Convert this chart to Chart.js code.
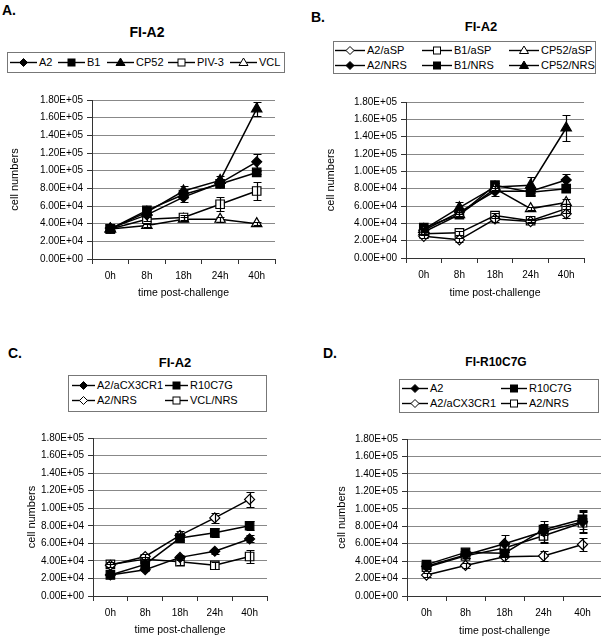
<!DOCTYPE html>
<html>
<head>
<meta charset="utf-8">
<script src="https://cdn.jsdelivr.net/npm/chart.js@4.4.1/dist/chart.umd.min.js"></script>
<style>
  body { margin: 0; background: #fff; width: 601px; height: 637px; overflow: hidden; position: relative;
         font-family: "Liberation Sans", Arial, sans-serif; color: #000; }
  canvas { position: absolute; }
  .lett { position: absolute; font-weight: bold; font-size: 14px; line-height: 14px; }
  .ttl { position: absolute; font-weight: bold; font-size: 13px; line-height: 13px; transform: translateX(-50%); white-space: nowrap; }
  .leg { position: absolute; border: 1px solid #777; box-sizing: border-box; }
  .it { position: absolute; display: flex; align-items: center; font-size: 11px; line-height: 13px; white-space: nowrap; }
  .it svg { margin-right: 2px; display: block; }
</style>
</head>
<body>

<script>
// categorias del eje x
const hours = ['0h', '8h', '18h', '24h', '40h'];

// A. FI-A2
const aA2   = [35000, 50000, 70000, 86000, 110000];
const aA2e  = [0, 0, 5000, 3000, 9000];
const aB1   = [34000, 55000, 73000, 85000, 98000];
const aB1e  = [0, 2000, 3000, 2000, 2000];
const aCP52 = [34000, 53000, 77000, 89000, 170000];
const aCP52e = [0, 3000, 6000, 5000, 8000];
const aPIV3 = [34000, 45000, 47000, 62000, 77000];
const aPIV3e = [0, 2000, 3000, 8000, 10000];
const aVCL  = [34000, 38000, 45000, 45000, 40000];
const aVCLe = [0, 2000, 2000, 3000, 2000];

// B. FI-A2 (aSP / NRS)
const bA2aSP   = [25000, 21000, 45000, 42000, 51000];
const bA2aSPe  = [2000, 2000, 3000, 2000, 5000];
const bB1aSP   = [28000, 29000, 49000, 43000, 57000];
const bB1aSPe  = [2000, 2000, 3000, 2000, 5000];
const bCP52aSP = [30000, 50000, 80000, 57000, 64000];
const bCP52aSPe = [2000, 3000, 3000, 2000, 4000];
const bA2NRS   = [32000, 53000, 77000, 77000, 90000];
const bA2NRSe  = [2000, 5000, 6000, 5000, 7000];
const bB1NRS   = [35000, 50000, 84000, 76000, 80000];
const bB1NRSe  = [2000, 3000, 3000, 3000, 3000];
const bCP52NRS = [33000, 58000, 82000, 84000, 150000];
const bCP52NRSe = [2000, 7000, 4000, 9000, 15000];

// C. FI-A2 (aCX3CR1)
const cA2aCX  = [24000, 30000, 44000, 51000, 65000];
const cA2aCXe = [2000, 2000, 3000, 3000, 4000];
const cR10    = [24000, 36000, 66000, 72000, 80000];
const cR10e   = [2000, 3000, 5000, 5000, 5000];
const cA2NRS  = [35000, 45000, 69000, 89000, 110000];
const cA2NRSe = [2000, 3000, 5000, 6000, 9000];
const cVCL    = [36000, 42000, 39000, 35000, 45000];
const cVCLe   = [3000, 3000, 4000, 4000, 7000];

// D. FI-R10C7G
const dA2     = [34000, 47000, 60000, 74000, 85000];
const dA2e    = [2000, 3000, 10000, 12000, 12000];
const dR10    = [36000, 50000, 49000, 76000, 88000];
const dR10e   = [2000, 2000, 3000, 6000, 11000];
const dA2aCX  = [24000, 35000, 45000, 46000, 59000];
const dA2aCXe = [2000, 3000, 5000, 6000, 7000];
const dA2NRS  = [33000, 46000, 55000, 69000, 84000];
const dA2NRSe = [2000, 3000, 5000, 8000, 12000];

const yMax = 180000;
const yStep = 20000;

Chart.defaults.font.family = '"Liberation Sans", Arial, sans-serif';
Chart.defaults.color = '#000';

// formato 1.80E+05
function sci(v) {
  if (v === 0) return '0.00E+00';
  const e = Math.floor(Math.log10(v) + 1e-9);
  const m = v / Math.pow(10, e);
  return m.toFixed(2) + 'E+' + String(e).padStart(2, '0');
}

// barras de error verticales
const errorBars = {
  id: 'errorBars',
  afterDatasetsDraw(chart) {
    const ctx = chart.ctx;
    const y = chart.scales.y;
    chart.data.datasets.forEach((ds, i) => {
      const meta = chart.getDatasetMeta(i);
      ctx.save();
      ctx.strokeStyle = '#000';
      ctx.lineWidth = 1.2;
      meta.data.forEach((pt, j) => {
        const e = ds.errs[j];
        if (!e) return;
        const top = Math.round(y.getPixelForValue(ds.data[j] + e)) + 0.5;
        const bot = Math.round(y.getPixelForValue(ds.data[j] - e)) + 0.5;
        const x = Math.round(pt.x) + 0.5;
        ctx.beginPath();
        ctx.moveTo(x, top); ctx.lineTo(x, bot);
        ctx.moveTo(x - 4, top); ctx.lineTo(x + 4, top);
        ctx.moveTo(x - 4, bot); ctx.lineTo(x + 4, bot);
        ctx.stroke();
      });
      ctx.restore();
    });
  }
};

function pointCfg(kind) {
  const open = kind.endsWith('O');
  const base = open ? kind.slice(0, -1) : kind;
  return {
    pointStyle: { dia: 'rectRot', sq: 'rect', tri: 'triangle' }[base],
    pointRadius: { dia: 5, sq: 6, tri: 6 }[base],
    pointBackgroundColor: open ? '#fff' : '#000',
    pointBorderColor: '#000',
    pointBorderWidth: 1.2
  };
}

function markerSvg(kind, w) {
  const open = kind.endsWith('O');
  const base = open ? kind.slice(0, -1) : kind;
  const fill = open ? '#fff' : '#000';
  const cx = w / 2, cy = 5.5;
  let shape = '';
  if (base === 'dia') shape = `<polygon points="${cx},${cy - 4} ${cx + 4},${cy} ${cx},${cy + 4} ${cx - 4},${cy}" fill="${fill}" stroke="#000"/>`;
  if (base === 'sq') shape = `<rect x="${cx - 3.5}" y="${cy - 3.5}" width="7" height="7" fill="${fill}" stroke="#000"/>`;
  if (base === 'tri') shape = `<polygon points="${cx},${cy - 4.5} ${cx + 4.5},${cy + 3} ${cx - 4.5},${cy + 3}" fill="${fill}" stroke="#000"/>`;
  return `<svg width="${w}" height="11"><line x1="0" y1="${cy}" x2="${w}" y2="${cy}" stroke="#000" stroke-width="1.4"/>${shape}</svg>`;
}

function addText(cls, text, left, top) {
  const d = document.createElement('div');
  d.className = cls;
  d.textContent = text;
  d.style.left = left + 'px';
  d.style.top = top + 'px';
  document.body.appendChild(d);
  return d;
}

function addLegend(series, box, cols, rows, sw) {
  const lg = document.createElement('div');
  lg.className = 'leg';
  lg.style.left = box[0] + 'px';
  lg.style.top = box[1] + 'px';
  lg.style.width = (box[2] - box[0]) + 'px';
  lg.style.height = (box[3] - box[1]) + 'px';
  document.body.appendChild(lg);
  series.forEach((s, i) => {
    const c = i % cols.length, r = Math.floor(i / cols.length);
    const it = document.createElement('div');
    it.className = 'it';
    it.innerHTML = markerSvg(s.kind, sw) + '<span></span>';
    it.querySelector('span').textContent = s.label;
    it.style.left = cols[c] + 'px';
    it.style.top = (rows[r] - 6.5) + 'px';
    document.body.appendChild(it);
  });
}

function panel(p) {
  const cv = document.createElement('canvas');
  cv.width = p.cv[2]; cv.height = p.cv[3];
  cv.style.left = p.cv[0] + 'px'; cv.style.top = p.cv[1] + 'px';
  document.body.appendChild(cv);

  const yW = p.plot[0] - p.cv[0];
  const xH = p.cv[1] + p.cv[3] - p.plot[3];

  new Chart(cv, {
    type: 'line',
    data: {
      labels: hours,
      datasets: p.series.map(s => Object.assign({
        label: s.label,
        data: s.data,
        errs: s.err,
        borderColor: '#000',
        borderWidth: 1.5,
        fill: false,
        tension: 0
      }, pointCfg(s.kind)))
    },
    options: {
      responsive: false,
      animation: false,
      events: [],
      layout: { padding: { left: 0, top: p.plot[1] - p.cv[1], right: p.cv[0] + p.cv[2] - p.plot[2], bottom: 0 } },
      plugins: { legend: { display: false }, tooltip: { enabled: false } },
      scales: {
        x: {
          offset: true,
          grid: { offset: true, drawOnChartArea: false, tickLength: 5, tickColor: '#333' },
          border: { color: '#333' },
          ticks: { font: { size: 10 }, padding: 6, maxRotation: 0, autoSkip: false },
          title: { display: true, text: 'time post-challenge', font: { size: 10.5 }, padding: { top: 0, bottom: p.xPad } },
          afterFit: s => { s.height = xH; }
        },
        y: {
          min: 0, max: yMax,
          ticks: { stepSize: yStep, font: { size: 10 }, padding: 4, callback: v => sci(v) },
          grid: { color: '#888', tickLength: 5, tickColor: '#333' },
          border: { color: '#333' },
          title: { display: true, text: 'cell numbers', font: { size: 11 }, padding: { top: p.yPad, bottom: 0 } },
          afterFit: s => { s.width = yW; }
        }
      }
    },
    plugins: [errorBars]
  });

  addText('lett', p.letter, p.letterPos[0], p.letterPos[1]);
  const t = addText('ttl', p.title, p.titlePos[0], p.titlePos[1] - 6.5);
  if (p.titleSize) t.style.fontSize = p.titleSize + 'px';
  addLegend(p.series, p.legBox, p.legCols, p.legRows, p.sw);
}

panel({
  letter: 'A.', letterPos: [2, 3], title: 'FI-A2', titlePos: [147, 32], titleSize: 14,
  cv: [0, 80, 300, 232], plot: [92, 100, 275, 259], xPad: 12.7, yPad: 8.4,
  legBox: [7, 52, 285, 73], legCols: [10, 58, 107, 168, 230], legRows: [62], sw: 27,
  series: [
    { label: 'A2', data: aA2, err: aA2e, kind: 'dia' },
    { label: 'B1', data: aB1, err: aB1e, kind: 'sq' },
    { label: 'CP52', data: aCP52, err: aCP52e, kind: 'tri' },
    { label: 'PIV-3', data: aPIV3, err: aPIV3e, kind: 'sqO' },
    { label: 'VCL', data: aVCL, err: aVCLe, kind: 'triO' }
  ]
});

panel({
  letter: 'B.', letterPos: [311, 10], title: 'FI-A2', titlePos: [481, 26],
  cv: [300, 80, 301, 232], plot: [406, 102, 584, 258], xPad: 12.7, yPad: 24.4,
  legBox: [333, 41, 596, 74], legCols: [335, 422, 509], legRows: [50, 65.5], sw: 30,
  series: [
    { label: 'A2/aSP', data: bA2aSP, err: bA2aSPe, kind: 'diaO' },
    { label: 'B1/aSP', data: bB1aSP, err: bB1aSPe, kind: 'sqO' },
    { label: 'CP52/aSP', data: bCP52aSP, err: bCP52aSPe, kind: 'triO' },
    { label: 'A2/NRS', data: bA2NRS, err: bA2NRSe, kind: 'dia' },
    { label: 'B1/NRS', data: bB1NRS, err: bB1NRSe, kind: 'sq' },
    { label: 'CP52/NRS', data: bCP52NRS, err: bCP52NRSe, kind: 'tri' }
  ]
});

panel({
  letter: 'C.', letterPos: [8, 346], title: 'FI-A2', titlePos: [175, 362],
  cv: [0, 420, 300, 217], plot: [93, 438, 267, 596], xPad: 0.7, yPad: 25.4,
  legBox: [68, 375, 267, 412], legCols: [72, 165], legRows: [385, 400.5], sw: 23,
  series: [
    { label: 'A2/aCX3CR1', data: cA2aCX, err: cA2aCXe, kind: 'dia' },
    { label: 'R10C7G', data: cR10, err: cR10e, kind: 'sq' },
    { label: 'A2/NRS', data: cA2NRS, err: cA2NRSe, kind: 'diaO' },
    { label: 'VCL/NRS', data: cVCL, err: cVCLe, kind: 'sqO' }
  ]
});

panel({
  letter: 'D.', letterPos: [323, 346], title: 'FI-R10C7G', titlePos: [496, 362], titleSize: 12,
  cv: [300, 420, 310, 217], plot: [407, 439, 602, 596], xPad: 0, yPad: 35.4,
  legBox: [399, 379, 599, 413], legCols: [402, 501], legRows: [388, 403], sw: 26,
  series: [
    { label: 'A2', data: dA2, err: dA2e, kind: 'dia' },
    { label: 'R10C7G', data: dR10, err: dR10e, kind: 'sq' },
    { label: 'A2/aCX3CR1', data: dA2aCX, err: dA2aCXe, kind: 'diaO' },
    { label: 'A2/NRS', data: dA2NRS, err: dA2NRSe, kind: 'sqO' }
  ]
});
</script>
</body>
</html>
